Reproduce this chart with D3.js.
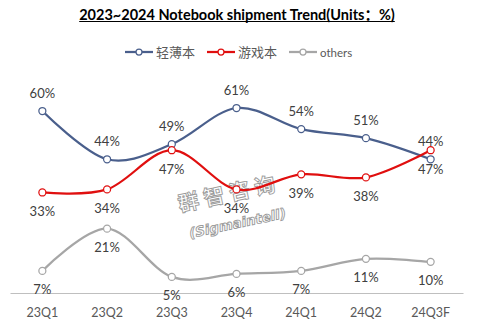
<!DOCTYPE html>
<html><head><meta charset="utf-8">
<script src="https://cdn.jsdelivr.net/npm/d3@7"></script>
<style>body{margin:0;background:#fff}</style>
</head><body><svg id="c" width="477" height="326"></svg>
<script>
const categories = ["23Q1","23Q2","23Q3","23Q4","24Q1","24Q2","24Q3F"];
const thinLight = [60,44,49,61,54,51,44];
const gaming = [33,34,47,34,39,38,47];
const others = [7,21,5,6,7,11,10];
const seriesNames = ["轻薄本","游戏本","others"];
const seriesColors = ["#4a5f8c","#e00f0f","#a6a6a6"];
const labelPos = ["above","below","below"];
const titleText = "2023~2024 Notebook shipment Trend(Units：%)";

const svg = d3.select("#c");
const x = d3.scaleBand().domain(categories).range([10,463]);
const y = d3.scaleLinear().domain([0,61]).range([292,108]);
const cx = d => x(d) + x.bandwidth()/2;

// title
const t = svg.append("text").attr("x",237).attr("y",19.5).attr("text-anchor","middle")
  .attr("font-family","Lato, 'Noto Sans CJK SC', sans-serif").attr("font-weight","bold")
  .attr("font-size",14.5).attr("fill","#000").text(titleText);
const bb = t.node().getBBox();
svg.append("line").attr("x1",bb.x).attr("x2",bb.x+bb.width).attr("y1",21.5).attr("y2",21.5)
  .attr("stroke","#000").attr("stroke-width",1.2);

// legend
const legendX = [125,207,289];
seriesNames.forEach((n,i)=>{
  const g = svg.append("g").attr("transform",`translate(${legendX[i]},52)`);
  g.append("line").attr("x1",0).attr("x2",28).attr("y1",0).attr("y2",0)
    .attr("stroke",seriesColors[i]).attr("stroke-width",2.25);
  g.append("circle").attr("cx",14).attr("cy",0).attr("r",3).attr("fill","#fff")
    .attr("stroke",seriesColors[i]).attr("stroke-width",1.25);
  g.append("text").attr("x",31).attr("y",4.5).attr("font-size",i<2?13:11.5)
    .attr("font-family",i<2?"'Noto Sans CJK SC', sans-serif":"Lato, sans-serif")
    .attr("fill","#595959").text(n);
});

// axis
const xAxis = d3.axisBottom(x).tickSize(0).tickPadding(15);
const ax = svg.append("g").attr("transform","translate(0,293)").call(xAxis);
ax.select(".domain").attr("stroke","#bfbfbf").attr("stroke-width",1.2);
ax.selectAll("text").attr("font-family","Lato, sans-serif").attr("font-size",12.5).attr("fill","#595959");

// watermark
const wm = svg.append("g").attr("transform","translate(229,193) rotate(-12)")
  .attr("fill","#fff").attr("stroke","#9a9a9a").attr("stroke-width",0.9).attr("text-anchor","middle");
wm.append("text").attr("x",0).attr("y",8).attr("font-family","'Noto Sans CJK SC', sans-serif")
  .attr("font-weight","bold").attr("font-size",21).attr("letter-spacing",5).text("群智咨询");
wm.append("text").attr("x",2).attr("y",36).attr("font-family","'DejaVu Sans', sans-serif")
  .attr("font-weight","bold").attr("font-style","italic").attr("font-size",13.5).text("(Sigmaintell)");

// series
const data = [thinLight, gaming, others];
const line = d3.line().x((d,i)=>cx(categories[i])).y(d=>y(d)).curve(d3.curveCardinal.tension(0));
data.forEach((vals,s)=>{
  svg.append("path").datum(vals).attr("d",line).attr("fill","none")
    .attr("stroke",seriesColors[s]).attr("stroke-width",2.25);
});
data.forEach((vals,s)=>{
  svg.append("g").selectAll("circle").data(vals).join("circle")
    .attr("cx",(d,i)=>cx(categories[i])).attr("cy",d=>y(d)).attr("r",3.5)
    .attr("fill","#fff").attr("stroke",seriesColors[s]).attr("stroke-width",1.25);
});
data.forEach((vals,s)=>{
  svg.append("g").selectAll("text").data(vals).join("text")
    .attr("x",(d,i)=>cx(categories[i])).attr("y",d=>y(d)+(labelPos[s]==="above"?-18:19)+4.5)
    .attr("text-anchor","middle").attr("font-family","Lato, sans-serif").attr("font-size",13)
    .attr("fill","#404040").text(d=>d+"%");
});
</script></body></html>
